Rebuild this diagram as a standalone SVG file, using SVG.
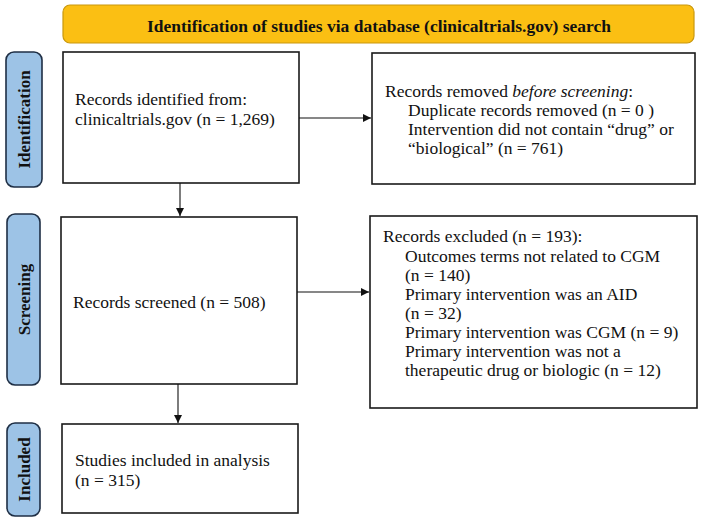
<svg xmlns="http://www.w3.org/2000/svg" width="701" height="522" viewBox="0 0 701 522">
<style>
.box{fill:#fff;stroke:#1a1a1a;stroke-width:1.6}
.side{fill:#9dc3e6;stroke:#1f2f45;stroke-width:1.6}
.t{font-family:"Liberation Serif","Times New Roman",serif;font-size:17.5px;fill:#111}
.sl{font-family:"Liberation Serif","Times New Roman",serif;font-size:17px;font-weight:bold;fill:#111}
.conn{stroke:#111;stroke-width:1.1;fill:none}
</style>
<defs>
<marker id="ah" viewBox="0 0 10 10" refX="10" refY="5" markerWidth="8" markerHeight="8" markerUnits="userSpaceOnUse" orient="auto">
<path d="M0,0 L10,5 L0,10 z" fill="#111"/>
</marker>
</defs>
<rect width="701" height="522" fill="#fff"/>
<g id="banner">
<rect x="63" y="5" width="631" height="38" rx="7" fill="#fbbf13" stroke="#c9980e" stroke-width="1.2"/>
<text class="sl" x="379" y="32" font-size="20" text-anchor="middle" textLength="464" lengthAdjust="spacingAndGlyphs">Identification of studies via database (clinicaltrials.gov) search</text>
</g>
<g id="label-identification">
<rect class="side" x="6" y="52" width="36" height="135" rx="8"/>
<text class="sl" transform="translate(30,119.5) rotate(-90)" text-anchor="middle">Identification</text>
</g>
<g id="label-screening">
<rect class="side" x="7" y="214" width="33" height="171" rx="8"/>
<text class="sl" transform="translate(30,299.5) rotate(-90)" text-anchor="middle">Screening</text>
</g>
<g id="label-included">
<rect class="side" x="7" y="423" width="33" height="93" rx="8"/>
<text class="sl" transform="translate(30,469.5) rotate(-90)" text-anchor="middle">Included</text>
</g>
<g id="records-identified">
<rect class="box" x="63" y="52" width="236" height="131"/>
<text class="t" x="75" y="105">Records identified from:</text>
<text class="t" x="75" y="125">clinicaltrials.gov (n = 1,269)</text>
</g>
<g id="records-removed">
<rect class="box" x="372" y="53" width="323" height="131"/>
<text class="t" x="385" y="97">Records removed <tspan font-style="italic">before screening</tspan>:</text>
<text class="t" x="408" y="116">Duplicate records removed (n = 0 )</text>
<text class="t" x="408" y="135">Intervention did not contain “drug” or</text>
<text class="t" x="408" y="154">“biological” (n = 761)</text>
</g>
<g id="records-screened">
<rect class="box" x="61" y="217" width="236" height="167"/>
<text class="t" x="73" y="308">Records screened (n = 508)</text>
</g>
<g id="records-excluded">
<rect class="box" x="370" y="216" width="327" height="192"/>
<text class="t" x="383" y="242">Records excluded (n = 193):</text>
<text class="t" x="405" y="262">Outcomes terms not related to CGM</text>
<text class="t" x="405" y="281">(n = 140)</text>
<text class="t" x="405" y="300">Primary intervention was an AID</text>
<text class="t" x="405" y="319">(n = 32)</text>
<text class="t" x="405" y="338">Primary intervention was CGM (n = 9)</text>
<text class="t" x="405" y="357">Primary intervention was not a</text>
<text class="t" x="405" y="376">therapeutic drug or biologic (n = 12)</text>
</g>
<g id="studies-included">
<rect class="box" x="62" y="424" width="236" height="89"/>
<text class="t" x="75" y="466">Studies included in analysis</text>
<text class="t" x="75" y="486">(n = 315)</text>
</g>
<g id="connectors">
<line class="conn" x1="299" y1="118" x2="371" y2="118" marker-end="url(#ah)"/>
<line class="conn" x1="180" y1="183" x2="180" y2="216" marker-end="url(#ah)"/>
<line class="conn" x1="297" y1="292" x2="369" y2="292" marker-end="url(#ah)"/>
<line class="conn" x1="178" y1="384" x2="178" y2="423" marker-end="url(#ah)"/>
</g>
</svg>
